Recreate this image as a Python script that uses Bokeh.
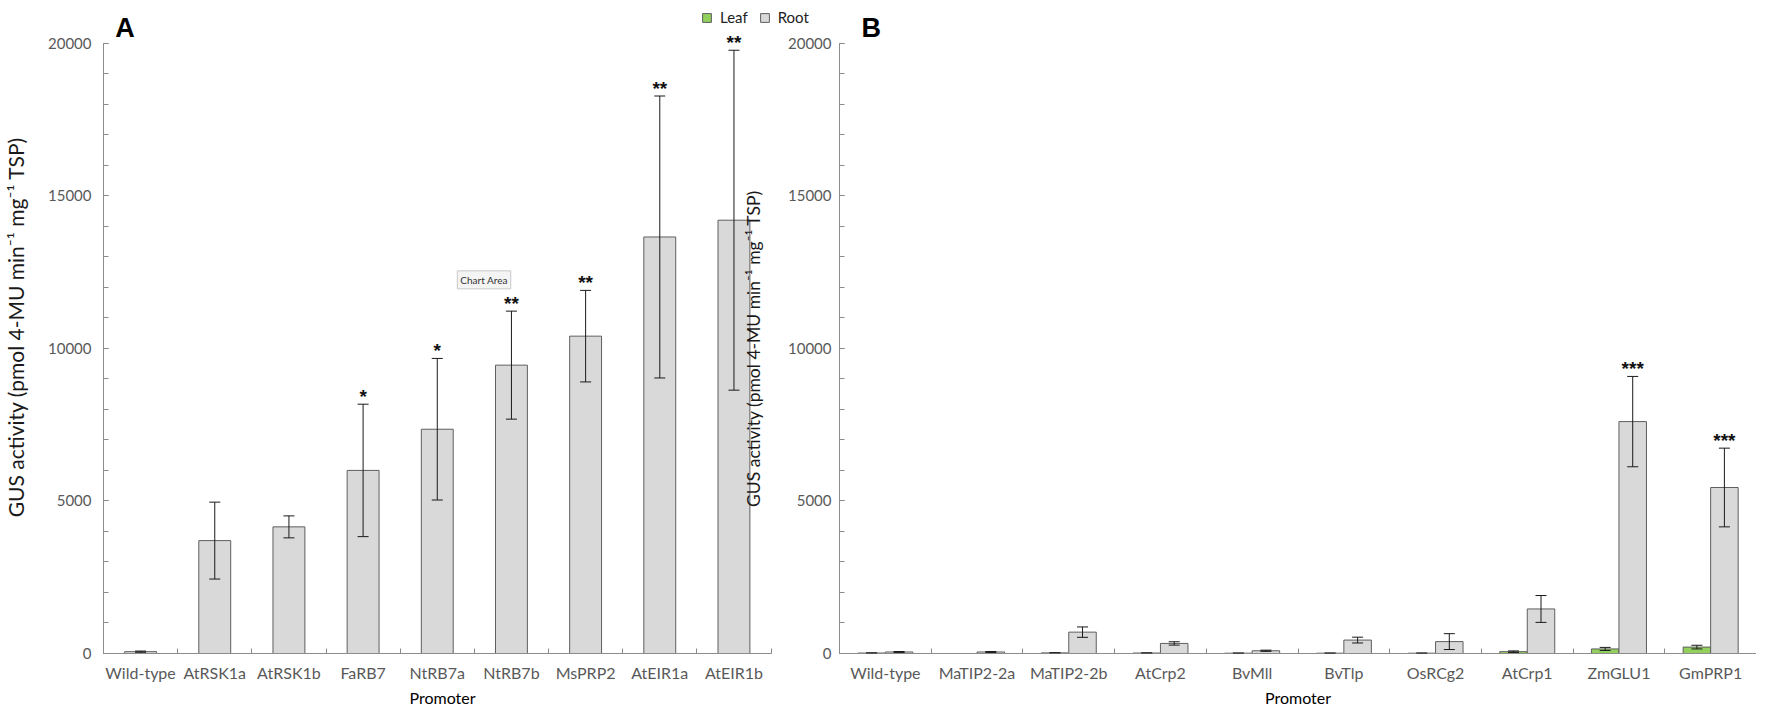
import numpy as np
from bokeh.plotting import figure
from bokeh.models import (ColumnDataSource, Range1d, FixedTicker, Whisker, TeeHead,
                          Label, Legend, LegendItem, Title)
from bokeh.layouts import row
from bokeh.embed import file_html
from bokeh.resources import INLINE
from bokeh.core.properties import value

# ---------------- data ----------------
a_categories = ["Wild-type", "AtRSK1a", "AtRSK1b", "FaRB7", "NtRB7a", "NtRB7b",
                "MsPRP2", "AtEIR1a", "AtEIR1b"]
a_root = [60, 3700, 4150, 6000, 7350, 9450, 10400, 13650, 14200]
a_root_err = [20, 1260, 360, 2170, 2320, 1770, 1500, 4620, 5570]
a_stars = ["", "", "", "*", "*", "**", "**", "**", "**"]

b_categories = ["Wild-type", "MaTIP2-2a", "MaTIP2-2b", "AtCrp2", "BvMll", "BvTlp",
                "OsRCg2", "AtCrp1", "ZmGLU1", "GmPRP1"]
b_leaf = [15, 0, 20, 15, 10, 10, 10, 60, 150, 210]
b_leaf_err = [5, 0, 5, 5, 5, 5, 5, 25, 50, 60]
b_root = [50, 50, 700, 330, 90, 440, 390, 1460, 7600, 5440]
b_root_err = [15, 15, 170, 55, 20, 95, 260, 440, 1480, 1290]
b_stars = ["", "", "", "", "", "", "", "", "***", "***"]

y_major = [0, 5000, 10000, 15000, 20000]
y_minor = list(range(0, 20001, 1000))
y_label = "GUS activity (pmol 4-MU min\u207b\u00b9 mg\u207b\u00b9 TSP)"
x_label = "Promoter"
series = ["Leaf", "Root"]

ROOT_FILL = "#d9d9d9"
LEAF_FILL = "#92cf5c"
BAR_LINE = "#5f5f5f"
AXIS_COLOR = "#8c8c8c"
TICK_TEXT = "#595959"
FONT = "Lato"
Y_TOP = 21400

# layout (pixels): panel A's frame runs up to panel B's y axis; panel B's left
# border (its tick labels) is laid transparently over the end of panel A.
A_FIG_W, A_LEFT, A_AXIS_PX = 837, 97, 673
B_FIG_W, B_LEFT = 971, 52


def make_fig(cats, width, left, x_end, ylab_size, title_align, title_offset):
    n = len(cats)
    p = figure(width=width, height=707, x_range=Range1d(0, x_end), y_range=Range1d(0, Y_TOP),
               output_backend="svg", toolbar_location=None,
               min_border_left=left, min_border_right=0,
               min_border_top=0, min_border_bottom=50)
    p.grid.visible = False
    p.outline_line_color = None
    p.background_fill_color = "white"
    centers = [i + 0.5 for i in range(n)]
    xa = p.xaxis[0]
    xa.bounds = (0, n)
    xa.ticker = FixedTicker(ticks=centers, minor_ticks=list(range(1, n + 1)))
    xa.major_label_overrides = {c: name for c, name in zip(centers, cats)}
    xa.major_tick_in = 0
    xa.major_tick_out = 0
    xa.minor_tick_in = 5
    xa.minor_tick_out = 0
    xa.minor_tick_line_color = AXIS_COLOR
    xa.axis_line_color = AXIS_COLOR
    xa.major_label_text_font = FONT
    xa.major_label_text_font_size = "16px"
    xa.major_label_text_color = TICK_TEXT
    xa.major_label_standoff = 9
    # x-axis title as a "below" title so that it can be placed horizontally
    p.add_layout(Title(text=x_label, align=title_align, offset=title_offset, standoff=2,
                       text_font=FONT, text_font_size="16px", text_font_style="normal",
                       text_color="black"), "below")

    ya = p.yaxis[0]
    ya.bounds = (0, 20000)
    ya.ticker = FixedTicker(ticks=y_major, minor_ticks=y_minor)
    ya.major_tick_in = 5
    ya.major_tick_out = 0
    ya.minor_tick_in = 5
    ya.minor_tick_out = 0
    ya.major_tick_line_color = AXIS_COLOR
    ya.minor_tick_line_color = AXIS_COLOR
    ya.axis_line_color = AXIS_COLOR
    ya.major_label_text_font = FONT
    ya.major_label_text_font_size = "15px"
    ya.major_label_text_color = TICK_TEXT
    ya.major_label_standoff = 12 if ylab_size else 8
    if ylab_size:
        ya.axis_label = y_label
        ya.axis_label_text_font = FONT
        ya.axis_label_text_font_size = ylab_size
        ya.axis_label_text_font_style = "normal"
        ya.axis_label_text_color = "#1a1a1a"
        ya.axis_label_standoff = 17
    return p


def add_whiskers(p, xs, vals, errs):
    keep = [i for i in range(len(xs)) if errs[i] > 0]
    src = ColumnDataSource(dict(
        x=[xs[i] for i in keep],
        upper=[vals[i] + errs[i] for i in keep],
        lower=[vals[i] - errs[i] for i in keep]))
    w = Whisker(source=src, base="x", upper="upper", lower="lower",
                line_color="#1a1a1a", line_width=1, level="overlay",
                upper_head=TeeHead(size=11, line_color="#1a1a1a", line_width=1),
                lower_head=TeeHead(size=11, line_color="#1a1a1a", line_width=1))
    p.add_layout(w)


def add_stars(p, xs, vals, errs, stars):
    src = ColumnDataSource(dict(x=list(xs), y=[v + e for v, e in zip(vals, errs)], t=stars))
    p.text(x="x", y="y", text="t", source=src, text_align="center", text_baseline="bottom",
           text_font=value("Liberation Sans"), text_font_style="bold",
           text_font_size="19px", text_color="#111111", y_offset=3)


# ---------------- panel A ----------------
na = len(a_categories)
a_x_end = na * (A_FIG_W - A_LEFT) / A_AXIS_PX
pa = make_fig(a_categories, A_FIG_W, A_LEFT, a_x_end, "21px", "left", 306)
xa_c = [i + 0.5 for i in range(na)]
src_a = ColumnDataSource(dict(x=xa_c, top=a_root))
pa.vbar(x="x", top="top", bottom=0, width=0.43, source=src_a,
        fill_color=ROOT_FILL, line_color=BAR_LINE, line_width=1)
add_whiskers(pa, xa_c, a_root, a_root_err)
add_stars(pa, xa_c, a_root, a_root_err, a_stars)
pa.add_layout(Label(x=0.16, y=21000, text="A", text_font="Liberation Sans",
                    text_font_style="bold", text_font_size="27px", text_color="black",
                    text_baseline="top"))
pa.add_layout(Label(x=4.77, y=11950, text="Chart Area", text_font=FONT,
                    text_font_size="10px", text_color="#333333", text_baseline="bottom",
                    background_fill_color="#f4f4f4", border_line_color="#c8c8c8",
                    padding=3))
# y-axis title of panel B sits just right of panel A's last bar
pa.add_layout(Label(x=8.76, y=10000, text=y_label, angle=np.pi / 2, text_font=FONT,
                    text_font_size="17.5px", text_color="#1a1a1a", text_align="center",
                    text_baseline="middle"))
# legend swatches: renderers kept outside the visible x range
leg_src = ColumnDataSource(dict(x=[-5.0], top=[0.0]))
d_leaf = pa.vbar(x="x", top="top", width=0.3, source=leg_src, fill_color=LEAF_FILL,
                 line_color=BAR_LINE)
d_root = pa.vbar(x="x", top="top", width=0.3, source=leg_src, fill_color=ROOT_FILL,
                 line_color=BAR_LINE)
legend = Legend(items=[LegendItem(label=series[0], renderers=[d_leaf]),
                       LegendItem(label=series[1], renderers=[d_root])],
                orientation="horizontal", location=(598, 627),
                label_text_font=FONT, label_text_font_size="15px", label_text_color="#222222",
                glyph_width=11, glyph_height=11, label_standoff=8, spacing=11,
                padding=0, margin=0, border_line_color=None, background_fill_alpha=0)
pa.add_layout(legend, "center")

# ---------------- panel B ----------------
nb = len(b_categories)
pb = make_fig(b_categories, B_FIG_W, B_LEFT, nb, None, "center", 0)
pb.border_fill_alpha = 0
pb.margin = (0, 0, 0, -B_LEFT)
xb_leaf = [i + 0.5 - 0.15 for i in range(nb)]
xb_root = [i + 0.5 + 0.15 for i in range(nb)]
src_bl = ColumnDataSource(dict(x=xb_leaf, top=b_leaf))
src_br = ColumnDataSource(dict(x=xb_root, top=b_root))
pb.vbar(x="x", top="top", bottom=0, width=0.3, source=src_bl,
        fill_color=LEAF_FILL, line_color=BAR_LINE, line_width=1)
pb.vbar(x="x", top="top", bottom=0, width=0.3, source=src_br,
        fill_color=ROOT_FILL, line_color=BAR_LINE, line_width=1)
add_whiskers(pb, xb_leaf, b_leaf, b_leaf_err)
add_whiskers(pb, xb_root, b_root, b_root_err)
add_stars(pb, xb_root, b_root, b_root_err, b_stars)
pb.add_layout(Label(x=0.24, y=21000, text="B", text_font="Liberation Sans",
                    text_font_style="bold", text_font_size="27px", text_color="black",
                    text_baseline="top"))

layout = row(pa, pb, spacing=0)
open("out.html", "w").write(file_html(layout, INLINE))
